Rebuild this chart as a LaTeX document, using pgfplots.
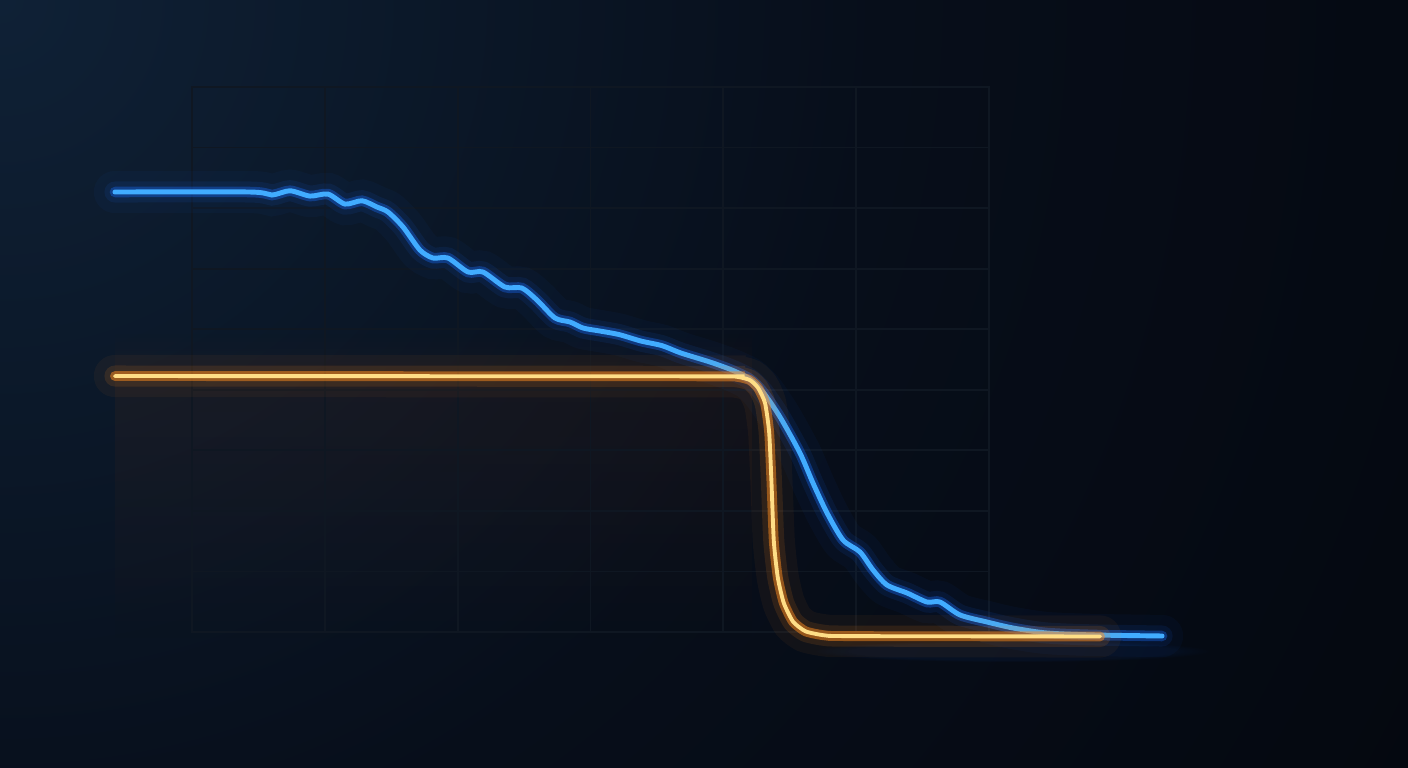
\documentclass[border=0pt]{standalone}
\usepackage{pgfplots}
\pgfplotsset{compat=1.18}
\usepackage{pgfplotstable}
\usetikzlibrary{fadings}

\definecolor{bgL}{RGB}{15,33,54}
\definecolor{bgM}{RGB}{7,14,26}
\definecolor{bgR}{RGB}{3,5,10}
\definecolor{gridc}{RGB}{15,23,34}
\definecolor{bluecore}{RGB}{65,172,255}
\definecolor{blueglow}{RGB}{25,110,255}
\definecolor{orcore}{RGB}{255,222,135}
\definecolor{orglow}{RGB}{255,140,30}
\definecolor{warm}{RGB}{120,55,20}

% radius 50bp = the circle drawn below (20cm)
\pgfdeclareradialshading{bgglow}{\pgfpoint{0bp}{0bp}}{%
  color(0bp)=(bgL); color(11bp)=(bgM); color(25bp)=(bgR); color(50bp)=(bgR)}

% blue: gradual fall with wiggles
\pgfplotstableread{
x y
-0.580 7.266
0.437 7.266
0.602 7.216
0.738 7.287
0.888 7.199
1.024 7.232
1.152 7.067
1.280 7.122
1.393 7.018
1.476 6.935
1.589 6.688
1.716 6.308
1.814 6.176
1.927 6.176
2.078 5.945
2.191 5.945
2.356 5.697
2.484 5.680
2.597 5.482
2.733 5.185
2.846 5.119
2.944 5.020
3.072 4.970
3.215 4.912
3.380 4.805
3.538 4.729
3.681 4.607
3.900 4.458
4.065 4.326
4.201 4.178
4.299 3.963
4.427 3.550
4.577 2.956
4.675 2.460
4.781 1.965
4.901 1.519
5.029 1.321
5.127 1.024
5.232 0.776
5.383 0.644
5.533 0.495
5.631 0.495
5.782 0.281
5.985 0.165
6.181 0.066
6.437 -0.017
6.813 -0.050
7.303 -0.066
}\bluedata

% orange: flat then sharp drop
\pgfplotstableread{
x y
-0.580 4.227
3.900 4.222
4.100 4.215
4.200 4.160
4.262 4.030
4.314 3.781
4.345 3.300
4.362 2.500
4.380 1.500
4.410 0.900
4.455 0.480
4.525 0.170
4.620 0.010
4.760 -0.055
4.950 -0.068
6.836 -0.074
}\ordata

\begin{document}
\begin{tikzpicture}
\fill[bgR] (-1.92,-1.36) rectangle (12.16,6.32);
\begin{scope}
\clip (-1.92,-1.36) rectangle (12.16,6.32);
\shade[shading=bgglow] (-1.92,6.32) circle (20cm);
\end{scope}
% warm tint under the orange line
\fill[warm, opacity=0.12, path fading=south] (-0.77,-0.1) rectangle (5.6,2.6);
\fill[warm, opacity=0.08, path fading=north] (-0.77,2.56) rectangle (5.6,3.0);
% faint reflection below the baseline
\fill[blueglow, opacity=0.06, path fading=circle with fuzzy edge 20 percent] (6.2,-0.08) rectangle (10.2,-0.30);

\begin{axis}[
  at={(0,0)}, anchor=south west,
  width=7.97cm, height=5.45cm, scale only axis,
  xmin=0, xmax=6, ymin=0, ymax=9,
  xtick={0,...,6}, ytick={0,...,9},
  xticklabels={}, yticklabels={},
  tick style={draw=none},
  grid=major,
  major grid style={draw=gridc, line width=0.5pt},
  axis line style={draw=gridc, line width=0.5pt},
  clip=false,
]
% glow layers
\addplot[blueglow, line width=12pt, opacity=0.04, smooth, tension=0.45, line cap=round] table {\bluedata};
\addplot[blueglow, line width=6pt, opacity=0.09, smooth, tension=0.45, line cap=round] table {\bluedata};
\addplot[blueglow, line width=3pt, opacity=0.35, smooth, tension=0.45, line cap=round] table {\bluedata};
\addplot[bluecore, line width=1.4pt, smooth, tension=0.45, line cap=round] table {\bluedata};

\addplot[orglow, line width=12pt, opacity=0.05, smooth, tension=0.35, line cap=round] table {\ordata};
\addplot[orglow, line width=6pt, opacity=0.12, smooth, tension=0.35, line cap=round] table {\ordata};
\addplot[orglow, line width=2.8pt, opacity=0.5, smooth, tension=0.35, line cap=round] table {\ordata};
\addplot[orcore, line width=1.1pt, smooth, tension=0.35, line cap=round] table {\ordata};
\end{axis}

\pgfresetboundingbox
\path[use as bounding box] (-1.92,-1.36) rectangle (12.16,6.32);
\end{tikzpicture}
\end{document}
